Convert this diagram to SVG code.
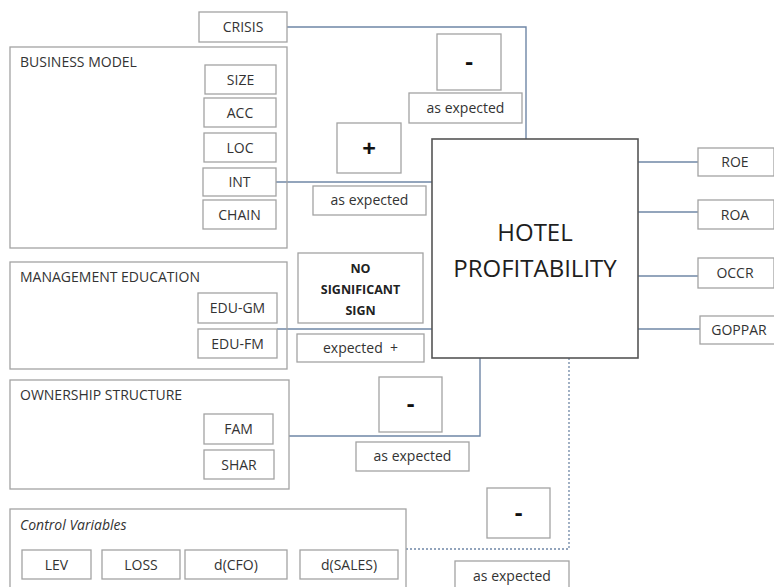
<svg xmlns="http://www.w3.org/2000/svg" width="774" height="587" viewBox="0 0 774 587">
<style>
  .box { fill: #fff; stroke: #a3a3a3; stroke-width: 1.3; }
  .grp { fill: none; stroke: #a3a3a3; stroke-width: 1.3; }
  .hotel { fill: #fff; stroke: #555; stroke-width: 1.6; }
  .t { font-family: "Open Sans", "Liberation Sans", sans-serif; font-size: 14px; fill: #333; text-anchor: middle; }
  .h { font-family: "Open Sans", "Liberation Sans", sans-serif; font-size: 14px; fill: #333; }
  .b { font-family: "Open Sans", "Liberation Sans", sans-serif; font-size: 12.5px; font-weight: bold; fill: #222; text-anchor: middle; }
  .sign { font-family: "Open Sans", "Liberation Sans", sans-serif; font-size: 24px; font-weight: bold; fill: #111; text-anchor: middle; }
  .big { font-family: "Open Sans", "Liberation Sans", sans-serif; font-size: 24px; fill: #1e1e1e; text-anchor: middle; }
  .c { fill: none; stroke: #6f87a6; stroke-width: 1.4; }
  .d { fill: none; stroke: #6f87a6; stroke-width: 1.3; stroke-dasharray: 2 2; }
</style>

<g id="connectors">
  <polyline class="c" points="287,27 526,27 526,139"/>
  <polyline class="c" points="276,182 432,182"/>
  <polyline class="c" points="277,329 432,329"/>
  <polyline class="c" points="289,436 480,436 480,358"/>
  <polyline class="d" points="406,549 569,549 569,358"/>
  <polyline class="c" points="638,162 698,162"/>
  <polyline class="c" points="638,212 698,212"/>
  <polyline class="c" points="638,276 698,276"/>
  <polyline class="c" points="638,329 700,329"/>
</g>

<g id="crisis">
  <rect class="box" x="199" y="12" width="88" height="30"/>
  <text class="t" x="243" y="32">CRISIS</text>
</g>

<g id="business-model">
  <rect class="grp" x="10" y="47" width="277" height="201"/>
  <text class="h" x="20" y="67">BUSINESS MODEL</text>
  <g id="size"><rect class="box" x="205" y="65" width="71" height="29"/><text class="t" x="240.5" y="84.5">SIZE</text></g>
  <g id="acc"><rect class="box" x="204" y="98" width="72" height="29"/><text class="t" x="240" y="117.5">ACC</text></g>
  <g id="loc"><rect class="box" x="204" y="133" width="72" height="29"/><text class="t" x="240" y="152.5">LOC</text></g>
  <g id="int"><rect class="box" x="203" y="168" width="73" height="28"/><text class="t" x="239.5" y="187">INT</text></g>
  <g id="chain"><rect class="box" x="203" y="200" width="73" height="29"/><text class="t" x="239.5" y="219.5">CHAIN</text></g>
</g>

<g id="management-education">
  <rect class="grp" x="10" y="262" width="277" height="107"/>
  <text class="h" x="20" y="282">MANAGEMENT EDUCATION</text>
  <g id="edu-gm"><rect class="box" x="198" y="293" width="79" height="30"/><text class="t" x="237.5" y="313">EDU-GM</text></g>
  <g id="edu-fm"><rect class="box" x="198" y="329" width="79" height="29"/><text class="t" x="237.5" y="348.5">EDU-FM</text></g>
</g>

<g id="ownership-structure">
  <rect class="grp" x="10" y="380" width="279" height="109"/>
  <text class="h" x="20" y="400">OWNERSHIP STRUCTURE</text>
  <g id="fam"><rect class="box" x="204" y="414" width="69" height="30"/><text class="t" x="238.5" y="434">FAM</text></g>
  <g id="shar"><rect class="box" x="204" y="450" width="70" height="29"/><text class="t" x="239" y="469.5">SHAR</text></g>
</g>

<g id="control-variables">
  <rect class="grp" x="10" y="509" width="396" height="90"/>
  <text class="h" x="20" y="530" font-style="italic">Control Variables</text>
  <g id="lev"><rect class="box" x="22" y="550" width="69" height="29"/><text class="t" x="56.5" y="569.5">LEV</text></g>
  <g id="loss"><rect class="box" x="102" y="550" width="78" height="29"/><text class="t" x="141" y="569.5">LOSS</text></g>
  <g id="dcfo"><rect class="box" x="185" y="550" width="102" height="29"/><text class="t" x="236" y="569.5">d(CFO)</text></g>
  <g id="dsales"><rect class="box" x="300" y="550" width="98" height="29"/><text class="t" x="349" y="569.5">d(SALES)</text></g>
</g>

<g id="hotel-profitability">
  <rect class="hotel" x="432" y="139" width="206" height="219"/>
  <text class="big" x="535" y="241">HOTEL</text>
  <text class="big" x="535" y="277">PROFITABILITY</text>
</g>

<g id="roe"><rect class="box" x="698" y="148" width="76" height="28"/><text class="t" x="735" y="167">ROE</text></g>
<g id="roa"><rect class="box" x="698" y="200" width="76" height="29"/><text class="t" x="735" y="219.5">ROA</text></g>
<g id="occr"><rect class="box" x="698" y="258" width="76" height="30"/><text class="t" x="735" y="278">OCCR</text></g>
<g id="goppar"><rect class="box" x="700" y="316" width="76" height="28"/><text class="t" x="739" y="335">GOPPAR</text></g>

<g id="sign-crisis">
  <rect class="box" x="437" y="34" width="64" height="56"/>
  <text class="sign" x="469" y="70">-</text>
</g>
<g id="label-crisis">
  <rect class="box" x="409" y="93" width="113" height="30"/>
  <text class="t" x="465.5" y="113">as expected</text>
</g>

<g id="sign-business">
  <rect class="box" x="337" y="123" width="64" height="50"/>
  <text class="sign" x="369" y="157">+</text>
</g>
<g id="label-business">
  <rect class="box" x="313" y="186" width="113" height="29"/>
  <text class="t" x="369.5" y="205">as expected</text>
</g>

<g id="sign-education">
  <rect class="box" x="298" y="253" width="125" height="70"/>
  <text class="b" x="360.5" y="273">NO</text>
  <text class="b" x="360.5" y="294">SIGNIFICANT</text>
  <text class="b" x="360.5" y="315">SIGN</text>
</g>
<g id="label-education">
  <rect class="box" x="297" y="334" width="127" height="28"/>
  <text class="t" x="360.5" y="353" xml:space="preserve">expected  +</text>
</g>

<g id="sign-ownership">
  <rect class="box" x="379" y="377" width="63" height="55"/>
  <text class="sign" x="410.5" y="412">-</text>
</g>
<g id="label-ownership">
  <rect class="box" x="356" y="442" width="113" height="29"/>
  <text class="t" x="412.5" y="461">as expected</text>
</g>

<g id="sign-control">
  <rect class="box" x="487" y="488" width="63" height="50"/>
  <text class="sign" x="518.5" y="521">-</text>
</g>
<g id="label-control">
  <rect class="box" x="455" y="561" width="114" height="40"/>
  <text class="t" x="512" y="581">as expected</text>
</g>
</svg>
